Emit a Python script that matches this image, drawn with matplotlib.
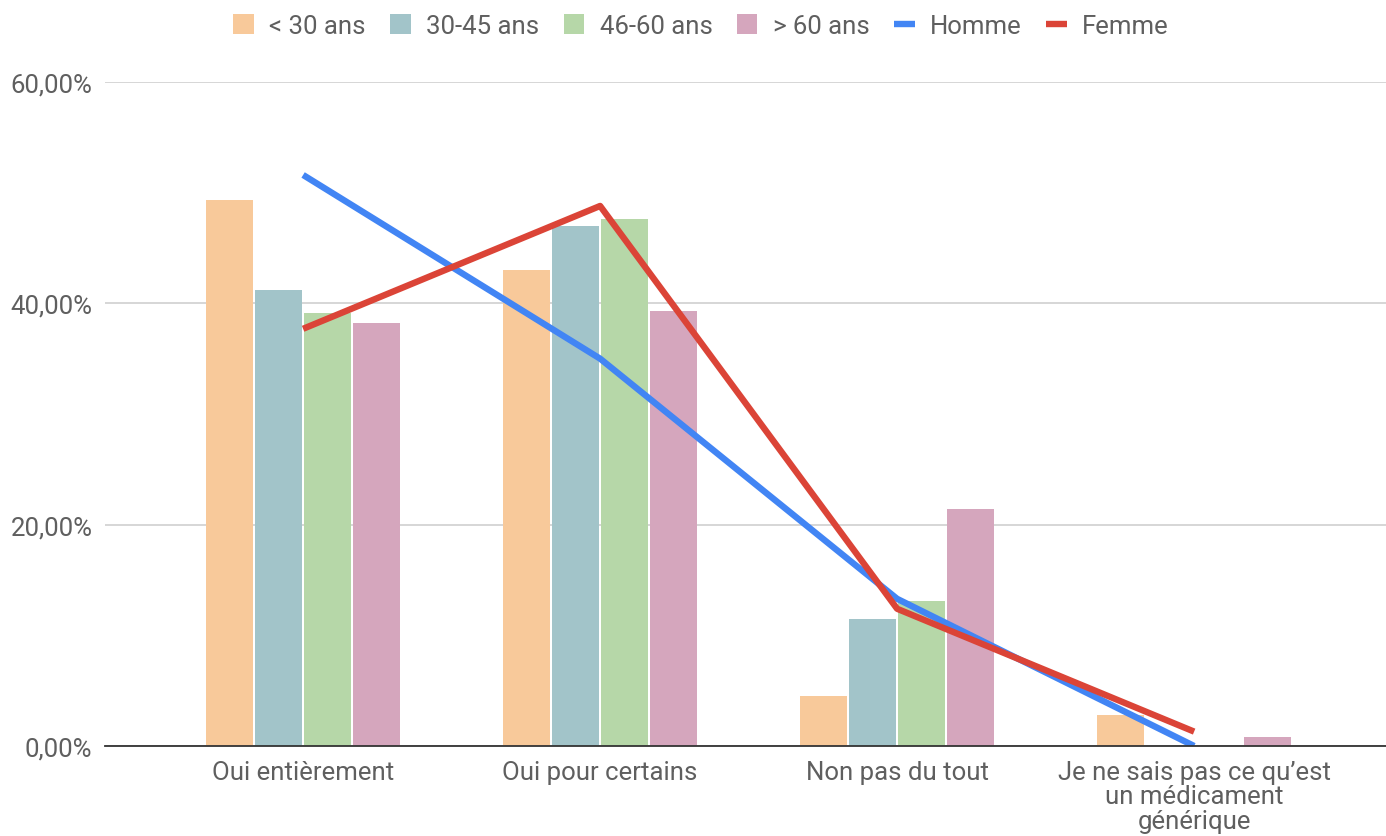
import matplotlib
matplotlib.use("Agg")
import matplotlib.pyplot as plt
import numpy as np
from matplotlib.ticker import FuncFormatter

categories = ["Oui entièrement", "Oui pour certains", "Non pas du tout",
              "Je ne sais pas ce qu\u2019est\nun médicament\ngénérique"]
age_labels = ["< 30 ans", "30-45 ans", "46-60 ans", "> 60 ans"]
lt30 = [49.3, 43.0, 4.5, 2.8]
a30_45 = [41.2, 47.0, 11.5, 0.0]
a46_60 = [39.1, 47.6, 13.1, 0.0]
gt60 = [38.2, 39.3, 21.4, 0.8]
homme = [51.6, 35.0, 13.3, 0.0]
femme = [37.7, 48.8, 12.4, 1.3]
yticks = [0, 20, 40, 60]

bar_colors = ["#F8C99A", "#A2C4C9", "#B6D7A8", "#D5A6BD"]
plt.rcParams['font.family'] = ['Roboto', 'DejaVu Sans']
txt = "#5f5f5f"
fs = 18.5

fig = plt.figure(figsize=(13.86, 8.37), dpi=100)
ax = fig.add_axes([105/1386, 1-747/837, 1-105/1386, (747-83)/837])

x = np.arange(len(categories))
series = [lt30, a30_45, a46_60, gt60]
step = 0.165
w = 0.158
for i, (vals, lab, col) in enumerate(zip(series, age_labels, bar_colors)):
    ax.bar(x + (i - 1.5) * step, vals, width=w, color=col, label=lab, zorder=2)

ax.plot(x, homme, color="#4285F4", lw=4.6, label="Homme", zorder=3, solid_capstyle='butt')
ax.plot(x, femme, color="#DB4437", lw=4.6, label="Femme", zorder=3, solid_capstyle='butt')

ax.set_xlim(-0.667, 3.646)
ax.set_ylim(0, 60)
ax.set_yticks(yticks)
ax.yaxis.set_major_formatter(FuncFormatter(lambda v, p: f"{v:.2f}".replace(".", ",") + "%"))
ax.set_xticks(x)
ax.set_xticklabels(categories, fontsize=fs, color=txt, linespacing=1.02)
ax.tick_params(axis='y', labelsize=fs, labelcolor=txt, length=0, pad=9)
ax.tick_params(axis='x', length=0, pad=10)
ax.grid(axis='y', color="#d0d0d0", lw=1.2, zorder=0)
for s in ["top", "right", "left"]:
    ax.spines[s].set_visible(False)
ax.spines["bottom"].set_color("#333333")
ax.spines["bottom"].set_linewidth(1.3)
ax.spines["bottom"].set_zorder(4)

h, l = ax.get_legend_handles_labels()
order = [2, 3, 4, 5, 0, 1]
leg = fig.legend([h[i] for i in order], [l[i] for i in order], loc="center",
                 bbox_to_anchor=(0.5 + 8/1386, 1-27/837), ncol=6, frameon=False,
                 fontsize=fs, handlelength=0.8, handleheight=0.8, handletextpad=0.6,
                 columnspacing=0.95)
for t in leg.get_texts():
    t.set_color(txt)

fig.savefig("out.png", dpi=100)
